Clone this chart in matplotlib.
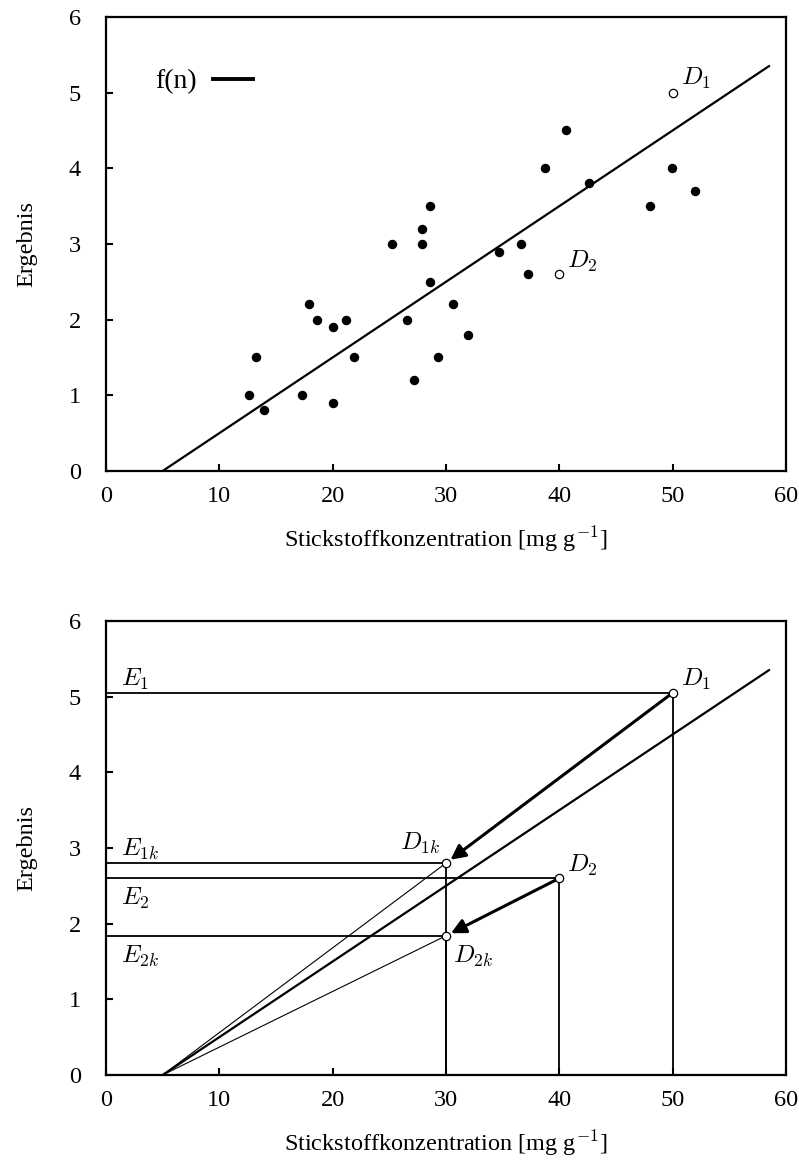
import numpy as np
import matplotlib
matplotlib.use('Agg')
import matplotlib.pyplot as plt

plt.rcParams['font.family'] = ['Liberation Serif', 'DejaVu Serif']
plt.rcParams['mathtext.fontset'] = 'cm'

# measured points (top chart)
n_x = [12.6, 13.2, 13.9, 17.3, 17.9, 18.6, 20.0, 20.0, 21.2, 21.9,
       25.2, 26.6, 27.2, 27.9, 27.9, 28.6, 28.6, 29.3, 30.6, 31.9,
       34.7, 36.6, 37.2, 38.7, 40.6, 42.6, 48.0, 49.9, 52.0]
n_y = [1.0, 1.5, 0.8, 1.0, 2.2, 2.0, 1.9, 0.9, 2.0, 1.5,
       3.0, 2.0, 1.2, 3.2, 3.0, 3.5, 2.5, 1.5, 2.2, 1.8,
       2.9, 3.0, 2.6, 4.0, 4.5, 3.8, 3.5, 4.0, 3.7]

# calibration line f(n)
fit_x = [5.0, 58.5]
fit_y = [0.0, 5.35]

# outliers and corrected points
D1 = (50.0, 5.05)
D2 = (40.0, 2.6)
D1k = (30.0, 2.8)
D2k = (30.0, 1.84)
D1_top = (50.0, 5.0)
D2_top = (40.0, 2.6)

xticks = [0, 10, 20, 30, 40, 50, 60]
yticks = [0, 1, 2, 3, 4, 5, 6]
xlabel = 'Stickstoffkonzentration [mg g$^{-1}$]'
ylabel = 'Ergebnis'

fig = plt.figure(figsize=(7.99, 11.60), dpi=100)
ax1 = fig.add_axes([0.1327, 0.594, 0.851, 0.3914])
ax2 = fig.add_axes([0.1327, 0.0733, 0.851, 0.3914])

def style(ax):
    ax.set_xlim(0, 60)
    ax.set_ylim(0, 6)
    ax.set_xticks(xticks)
    ax.set_yticks(yticks)
    ax.tick_params(axis='both', direction='in', length=5, width=1.5, labelsize=17.5)
    ax.tick_params(axis='x', pad=11)
    ax.tick_params(axis='y', pad=18)
    for s in ax.spines.values():
        s.set_linewidth(1.6)
    ax.set_xlabel(xlabel, fontsize=17.5, labelpad=12)
    ax.set_ylabel(ylabel, fontsize=17.5, labelpad=23)

# top chart
style(ax1)
ax1.plot(fit_x, fit_y, color='k', lw=1.6, label='f(n)')
ax1.plot(n_x, n_y, 'o', color='k', ms=5.8)
ax1.plot([D1_top[0], D2_top[0]], [D1_top[1], D2_top[1]], 'o', mfc='white', mec='k', mew=0.9, ms=6)
ax1.text(D1_top[0] + 0.7, D1_top[1] + 0.1, '$D_1$', fontsize=18)
ax1.text(D2_top[0] + 0.7, D2_top[1] + 0.08, '$D_2$', fontsize=18)
leg = ax1.legend(loc='upper left', bbox_to_anchor=(0.035, 0.94), frameon=False, markerfirst=False,
                 fontsize=20, handlelength=1.45, handletextpad=0.6)
for line in leg.get_lines():
    line.set_linewidth(2.8)

# bottom chart
style(ax2)
ax2.plot(fit_x, fit_y, color='k', lw=1.6)
# thin lines from the intercept to the corrected points
ax2.plot([fit_x[0], D1k[0]], [0, D1k[1]], color='k', lw=0.8)
ax2.plot([fit_x[0], D2k[0]], [0, D2k[1]], color='k', lw=0.8)
# guide lines
for p in [D1, D2, D1k, D2k]:
    ax2.plot([0, p[0]], [p[1], p[1]], color='k', lw=1.3)
    ax2.plot([p[0], p[0]], [0, p[1]], color='k', lw=1.3)
# arrows
for a, b in [(D1, D1k), (D2, D2k)]:
    ax2.annotate('', xy=b, xytext=a,
                 arrowprops=dict(arrowstyle='-|>', color='k', lw=2.2, mutation_scale=22,
                                 shrinkA=3, shrinkB=4))
px = [D1[0], D2[0], D1k[0], D2k[0]]
py = [D1[1], D2[1], D1k[1], D2k[1]]
ax2.plot(px, py, 'o', mfc='white', mec='k', mew=0.9, ms=6, zorder=5)

ax2.text(D1[0] + 0.7, D1[1] + 0.1, '$D_1$', fontsize=18)
ax2.text(D2[0] + 0.7, D2[1] + 0.08, '$D_2$', fontsize=18)
ax2.text(D1k[0] - 0.5, D1k[1] + 0.18, '$D_{1k}$', fontsize=18, ha='right')
ax2.text(D2k[0] + 0.6, D2k[1] - 0.1, '$D_{2k}$', fontsize=18, va='top')
ax2.text(1.3, D1[1] + 0.1, '$E_1$', fontsize=18)
ax2.text(1.3, D1k[1] + 0.1, '$E_{1k}$', fontsize=18)
ax2.text(1.3, D2[1] - 0.1, '$E_2$', fontsize=18, va='top')
ax2.text(1.3, D2k[1] - 0.1, '$E_{2k}$', fontsize=18, va='top')

plt.savefig('out.png', dpi=100)
